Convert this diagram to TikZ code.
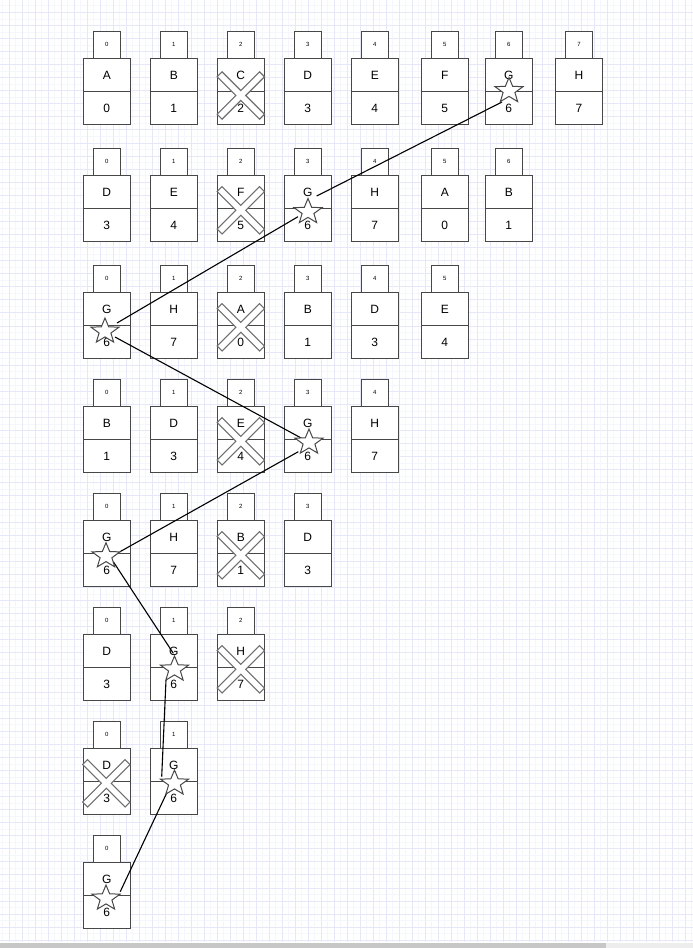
\documentclass[tikz,border=0pt]{standalone}
\usepackage{fontspec}
\setmainfont{Liberation Sans}
\definecolor{gridc}{HTML}{E7E7FA}
\definecolor{gridf}{HTML}{F6F6FD}
\definecolor{boxc}{HTML}{474747}
\definecolor{crossc}{HTML}{6E6E6E}
\def\colx{{106.8,173.8,240.8,307.8,374.8,444.8,508.8,579}}
\def\rowy{{58.3,175.3,292.3,406.3,520.3,634.3,748.3,862.3}}
\newcommand\rowshapes[2]{\foreach \c/\l/\n in #2{
  \pgfmathsetmacro\xx{\colx[\c]}
  \pgfmathsetmacro\yy{\rowy[#1]}
  \node[tabbox] (t#1-\c) at (\xx,\yy-13.5) {\c};
  \node[cell] (u#1-\c) at (\xx,\yy+16.6) {};
  \node[cell] (d#1-\c) at (\xx,\yy+49.9) {};
}}
\newcommand\rowtexts[2]{\foreach \c/\l/\n in #2{
  \node[txt] (a#1-\c) at (u#1-\c) {\l};
  \node[txt] (b#1-\c) at (d#1-\c) {\n};
}}
\def\rA{0/A/0,1/B/1,2/C/2,3/D/3,4/E/4,5/F/5,6/G/6,7/H/7}
\def\rB{0/D/3,1/E/4,2/F/5,3/G/6,4/H/7,5/A/0,6/B/1}
\def\rC{0/G/6,1/H/7,2/A/0,3/B/1,4/D/3,5/E/4}
\def\rD{0/B/1,1/D/3,2/E/4,3/G/6,4/H/7}
\def\rE{0/G/6,1/H/7,2/B/1,3/D/3}
\def\rF{0/D/3,1/G/6,2/H/7}
\def\rG{0/D/3,1/G/6}
\def\rH{0/G/6}
\begin{document}
\begin{tikzpicture}[x=1pt,y=-1pt,
  cell/.style={draw=boxc, fill=white, line width=1.1pt, minimum width=47pt, minimum height=33.25pt, inner sep=0pt, outer sep=0pt},
  tabbox/.style={draw=boxc, fill=white, line width=1.1pt, minimum width=27pt, minimum height=27pt, inner sep=0pt, outer sep=0pt, font=\fontsize{6}{7}\selectfont},
  txt/.style={inner sep=0pt, font=\fontsize{12}{14}\selectfont},
  link/.style={draw=black, line width=1.1pt},
  crossmark/.pic={\draw[draw=crossc, fill=white, line width=1.1pt, rotate=45]
     (3.5,3.5) -- (30,3.5) -- (30,-3.5) -- (3.5,-3.5) -- (3.5,-30) -- (-3.5,-30) -- (-3.5,-3.5)
     -- (-30,-3.5) -- (-30,3.5) -- (-3.5,3.5) -- (-3.5,30) -- (3.5,30) -- cycle;},
  starmark/.pic={\draw[draw=boxc, fill=white, line width=1pt]
     (0,-13.3) -- (3.64,-4.53) -- (13.98,-4.11) -- (5.90,1.73) -- (8.64,10.76) -- (0,5.6)
     -- (-8.64,10.76) -- (-5.90,1.73) -- (-13.98,-4.11) -- (-3.64,-4.53) -- cycle;}
]
\useasboundingbox (0,0) rectangle (693,948);
\fill[white] (0,0) rectangle (693,948);
% grid
\foreach \i in {0,...,53} \draw[gridf, line width=0.6pt] (2.5+13*\i,0) -- (2.5+13*\i,942);
\foreach \j in {0,...,72} \draw[gridf, line width=0.6pt] (0,5.77+13.07*\j) -- (693,5.77+13.07*\j);
\foreach \i in {0,...,53} \draw[gridc, line width=0.9pt] (9+13*\i,0) -- (9+13*\i,942);
\foreach \j in {0,...,71} \draw[gridc, line width=0.9pt] (0,12.3+13.07*\j) -- (693,12.3+13.07*\j);
% scrollbar
\fill[black!22] (0,942.5) rectangle (606,948);
\fill[black!7] (606,942.5) rectangle (693,948);
% box shapes
\rowshapes{0}{\rA}
\rowshapes{1}{\rB}
\rowshapes{2}{\rC}
\rowshapes{3}{\rD}
\rowshapes{4}{\rE}
\rowshapes{5}{\rF}
\rowshapes{6}{\rG}
\rowshapes{7}{\rH}
% crosses
\pic at (240.8,95.5) {crossmark};
\pic at (240.8,210.3) {crossmark};
\pic at (240.8,327.3) {crossmark};
\pic at (240.8,441.3) {crossmark};
\pic at (240.8,555.3) {crossmark};
\pic at (240.8,669.3) {crossmark};
\pic at (106.3,783.3) {crossmark};
% texts
\rowtexts{0}{\rA}
\rowtexts{1}{\rB}
\rowtexts{2}{\rC}
\rowtexts{3}{\rD}
\rowtexts{4}{\rE}
\rowtexts{5}{\rF}
\rowtexts{6}{\rG}
\rowtexts{7}{\rH}
% connector end points
\coordinate (p1a) at (502,102);
\coordinate (p1b) at (316.7,196);
\coordinate (p2a) at (298,216.7);
\coordinate (p2b) at (117,323);
\coordinate (p3a) at (115,337);
\coordinate (p3b) at (301.7,438.3);
\coordinate (p4a) at (298.3,451.7);
\coordinate (p4b) at (120,551.7);
\coordinate (p5a) at (113.3,561.7);
\coordinate (p5b) at (173.3,653.3);
\coordinate (p6a) at (166,680);
\coordinate (p6b) at (161.7,776.7);
\coordinate (p7a) at (166.7,793);
\coordinate (p7b) at (120.2,891.7);
\draw[link] (p1a) -- (p1b);
\draw[link] (p2a) -- (p2b);
\draw[link] (p3a) -- (p3b);
\draw[link] (p4a) -- (p4b);
\draw[link] (p5a) -- (p5b);
\draw[link] (p6a) -- (p6b);
\draw[link] (p7a) -- (p7b);
% stars
\pic at (509,90.8) {starmark};
\pic at (308,211.8) {starmark};
\pic at (105,331.3) {starmark};
\pic at (309,442.3) {starmark};
\pic at (106,556) {starmark};
\pic at (174.5,669.3) {starmark};
\pic at (174.5,783.3) {starmark};
\pic at (106,898.3) {starmark};
\end{tikzpicture}
\end{document}
